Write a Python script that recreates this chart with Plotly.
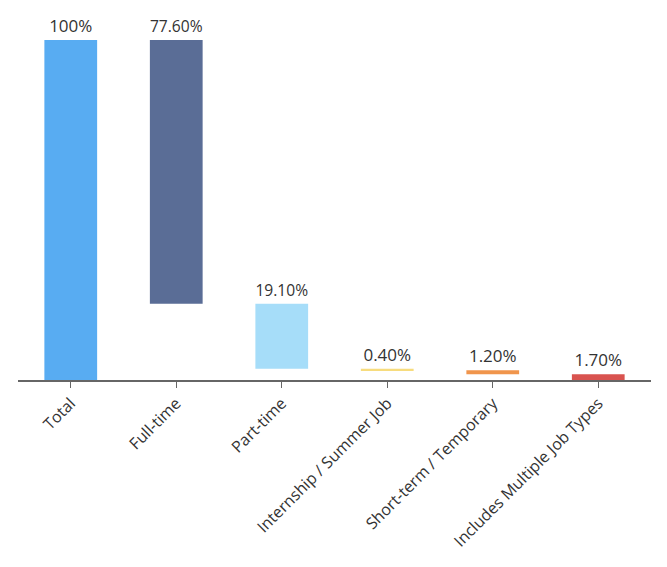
import numpy as np
import plotly.graph_objects as go

categories = [
    "Total",
    "Full-time",
    "Part-time",
    "Internship / Summer Job",
    "Short-term / Temporary",
    "Includes Multiple Job Types",
]
values = [100, 77.6, 19.1, 0.4, 1.2, 1.7]
labels = ["100%", "77.60%", "19.10%", "0.40%", "1.20%", "1.70%"]
colors = ["#58acf2", "#5a6d96", "#a6ddf9", "#f7dc7e", "#f0954c", "#d9534f"]

# Total starts at zero, every other bar hangs down from the previous level
vals = np.array(values, dtype=float)
tops = np.concatenate([[vals[0]], vals[0] - np.cumsum(vals[1:]) + vals[1:]])
bases = tops - vals
bases[0] = 0

fig = go.Figure(
    go.Bar(
        x=categories,
        y=vals,
        base=bases,
        marker=dict(color=colors, line=dict(width=0)),
        width=0.5,
        text=labels,
        textposition="outside",
        textfont=dict(size=17, color="#333333"),
        cliponaxis=False,
        hoverinfo="skip",
    )
)

fig.update_layout(
    width=667,
    height=567,
    margin=dict(l=10, r=24, t=32, b=195, autoexpand=False),
    paper_bgcolor="white",
    plot_bgcolor="white",
    font=dict(family="Open Sans, sans-serif", color="#333333"),
    showlegend=False,
)
fig.update_xaxes(
    tickangle=-45,
    tickfont=dict(size=16, color="#333333"),
    showline=True,
    linecolor="#666666",
    linewidth=1.5,
    ticks="outside",
    ticklen=6,
    tickcolor="#666666",
    showgrid=False,
    automargin=False,
)
fig.update_yaxes(
    range=[0, 100],
    visible=False,
    showgrid=False,
    zeroline=False,
)

fig.write_html("out.html")
